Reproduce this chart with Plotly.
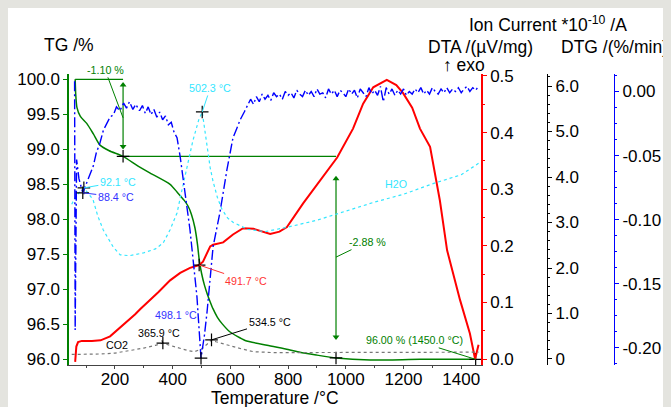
import numpy as np
import plotly.graph_objects as go

# ---------------- data ----------------
T_TG = [62, 64, 68, 80, 102, 125, 148, 180, 228, 280, 322, 391, 415, 440, 453, 465, 477, 486,
        492, 500, 510, 520, 530, 540, 555, 571, 599, 651, 727, 800, 841, 900, 966, 1084, 1257, 1450]
TG = [100.00, 99.78, 99.60, 99.47, 99.37, 99.22, 99.06, 98.98, 98.90, 98.76, 98.66, 98.50, 98.39,
      98.27, 98.19, 98.07, 97.88, 97.64, 97.42, 97.23, 97.06, 96.93, 96.82, 96.72, 96.60, 96.51,
      96.39, 96.27, 96.20, 96.14, 96.10, 96.06, 96.02, 95.99, 96.00, 96.00]

T_DTA = [62, 66, 72, 85, 120, 150, 183, 210, 242, 270, 287, 311, 350, 391, 426, 460, 491.7, 505,
         519, 530, 540, 575, 609, 644, 680, 738, 770, 796, 852, 911, 970, 1025, 1060, 1095, 1142,
         1175, 1198, 1230, 1257, 1292, 1326, 1351, 1396, 1430, 1448, 1460]
DTA = [-0.005, 0.022, 0.030, 0.032, 0.032, 0.033, 0.040, 0.052, 0.066, 0.079, 0.088, 0.099, 0.118,
       0.139, 0.152, 0.161, 0.166, 0.172, 0.187, 0.199, 0.202, 0.206, 0.220, 0.231, 0.230, 0.221,
       0.225, 0.233, 0.275, 0.316, 0.356, 0.407, 0.451, 0.480, 0.493, 0.484, 0.470, 0.444, 0.407,
       0.375, 0.280, 0.192, 0.104, 0.045, 0.000, 0.025]

T_H2O = [50, 62, 75, 92.1, 110, 124, 140, 159, 194, 218, 250, 298, 340, 367, 391, 415, 432, 450,
         470, 490, 502.3, 512, 520, 530, 540, 555, 570, 590, 610, 660, 720, 800, 900, 1000, 1100,
         1200, 1300, 1400, 1460]
H2O = [3.40, 3.55, 3.65, 3.76, 3.62, 3.50, 3.15, 2.84, 2.46, 2.29, 2.27, 2.33, 2.42, 2.55, 2.84,
       3.21, 3.71, 4.25, 4.80, 5.25, 5.43, 5.00, 4.60, 4.20, 3.90, 3.55, 3.30, 3.10, 3.00, 2.85,
       2.80, 2.90, 3.05, 3.25, 3.45, 3.62, 3.85, 4.05, 4.30]

T_CO2 = [50, 100, 150, 200, 250, 300, 340, 365.9, 390, 420, 450, 475, 500, 520, 534.5, 550, 570,
         600, 640, 680, 750, 900, 1100, 1300, 1460]
CO2 = [0.10, 0.10, 0.11, 0.13, 0.18, 0.24, 0.30, 0.35, 0.30, 0.24, 0.19, 0.16, 0.22, 0.33, 0.42,
       0.38, 0.35, 0.29, 0.22, 0.16, 0.14, 0.14, 0.14, 0.15, 0.15]

T_DTG = [60, 62, 67, 75, 88.4, 100, 112, 125, 135, 148, 160, 170, 183, 195, 205, 217, 230, 240,
         250, 262, 272, 285, 295, 305, 315, 325, 335, 345, 355, 365, 375, 385, 395, 405, 415, 426,
         440, 460, 484, 498.1, 510, 519, 540, 564, 588, 609, 620, 634, 648,
         660, 670, 680, 690, 700, 710, 720, 730, 740, 750, 760, 770, 780, 790, 800, 810, 820, 830,
         840, 850, 860, 870, 880, 890, 900, 910, 920, 930, 940, 950, 960, 970, 980, 990, 1000,
         1010, 1020, 1030, 1040, 1050, 1060, 1070, 1080, 1090, 1100, 1110, 1120, 1130, 1140, 1150,
         1160, 1170, 1180, 1190, 1200, 1210, 1220, 1230, 1240, 1250, 1260, 1270, 1280, 1290, 1300,
         1310, 1320, 1330, 1340, 1350, 1360, 1370, 1380, 1390, 1400, 1410, 1420, 1430, 1440, 1450,
         1460]
DTG = [0.008, -0.186, -0.053, -0.068, -0.079, -0.072, -0.065, -0.058, -0.048, -0.040, -0.030,
       -0.026, -0.020, -0.018, -0.012, -0.015, -0.009, -0.013, -0.008, -0.014, -0.010, -0.015,
       -0.011, -0.017, -0.012, -0.018, -0.014, -0.020, -0.016, -0.022, -0.019, -0.026, -0.024,
       -0.032, -0.036, -0.051, -0.075, -0.108, -0.160, -0.208, -0.190, -0.172, -0.121, -0.094,
       -0.061, -0.036, -0.030, -0.022, -0.016,
       -0.011, -0.006, -0.010, -0.004, -0.008, -0.002, -0.006, -0.003, -0.007, -0.001, -0.004,
       -0.002, -0.006, 0.000, -0.003, -0.001, -0.005, 0.001, -0.002, -0.004, 0.001, -0.003, 0.000,
       -0.004, 0.002, -0.002, -0.001, -0.005, 0.002, -0.002, 0.001, -0.004, 0.001, -0.001, -0.004,
       0.002, -0.002, 0.001, -0.005, 0.002, -0.001, -0.004, 0.003, -0.002, 0.001, -0.003, 0.004,
       -0.008, 0.003, -0.002, 0.002, -0.003, 0.001, -0.002, 0.002, -0.003, 0.000, -0.002, 0.002,
       -0.001, 0.003, -0.002, 0.001, -0.002, 0.003, 0.000, -0.002, 0.002, -0.001, 0.003, -0.001,
       0.002, 0.000, 0.003, -0.001, 0.002, 0.004, 0.000, 0.003, 0.001, 0.004]

# peak / event temperatures
T_STEP = [62, 228, 966]
T_H2O_PEAKS = [92.1, 502.3]
T_CO2_PEAKS = [365.9, 534.5]
T_DTG_PEAKS = [88.4, 498.1]
T_DTA_PEAK = 491.7
T_END = 1450

TG_TICKS = [96.0, 96.5, 97.0, 97.5, 98.0, 98.5, 99.0, 99.5, 100.0]
DTA_TICKS = [0.0, 0.1, 0.2, 0.3, 0.4, 0.5]
ION_TICKS = [0, 1, 2, 3, 4, 5, 6]
DTG_TICKS = [0.0, -0.05, -0.10, -0.15, -0.20]

# ---------------- style ----------------
GREEN = "#008000"
RED = "#ff0000"
BLUE = "#0000ff"
CYAN = "#33e6ff"
BG = "#e4e4df"
FONT = "Liberation Sans, Arial, sans-serif"

# the page puts the figure 8 px from the top-left corner
OFF = 8
W, H = 671 - OFF, 407 - OFF
# plot area in page pixels
PL, PR, PT, PB = 69, 660, 74, 365
L, R, TOP, BOT = PL - OFF, PR - OFF, PT - OFF, PB - OFF


def pxx(x):
    return (x - PL) / (PR - PL)


def pyy(y):
    return (PB - y) / (PB - PT)


fig = go.Figure()

fig.add_trace(go.Scatter(x=T_H2O, y=H2O, yaxis="y3", mode="lines",
                         line=dict(color=CYAN, width=1.2, dash="dot")))
fig.add_trace(go.Scatter(x=T_CO2, y=CO2, yaxis="y3", mode="lines",
                         line=dict(color="#777777", width=1.2, dash="dot")))
fig.add_trace(go.Scatter(x=T_DTG, y=DTG, yaxis="y4", mode="lines",
                         line=dict(color=BLUE, width=1.4, dash="10px,3px,2px,3px")))
fig.add_trace(go.Scatter(x=T_DTA, y=DTA, yaxis="y2", mode="lines",
                         line=dict(color=RED, width=2)))
fig.add_trace(go.Scatter(x=T_TG, y=TG, yaxis="y", mode="lines", line_shape="spline",
                         line=dict(color=GREEN, width=1.5, smoothing=0.6)))

# step evaluation lines
tg_step = [float(np.interp(t, T_TG, TG)) for t in T_STEP]
fig.add_trace(go.Scatter(x=[T_STEP[0], T_STEP[1]], y=[tg_step[0], tg_step[0]], yaxis="y",
                         mode="lines", line=dict(color=GREEN, width=1.2)))
fig.add_trace(go.Scatter(x=[T_STEP[1], T_STEP[2]], y=[tg_step[1], tg_step[1]], yaxis="y",
                         mode="lines", line=dict(color=GREEN, width=1.2)))


def darrow(x, ytop, ybot):
    fig.add_trace(go.Scatter(x=[x, x], y=[ytop, ybot], yaxis="y", mode="lines",
                             line=dict(color=GREEN, width=1.2)))
    fig.add_trace(go.Scatter(x=[x], y=[ytop], yaxis="y", mode="markers",
                             marker=dict(symbol="triangle-up", size=6, color=GREEN)))
    fig.add_trace(go.Scatter(x=[x], y=[ybot], yaxis="y", mode="markers",
                             marker=dict(symbol="triangle-down", size=6, color=GREEN)))


darrow(T_STEP[1], tg_step[0] - 0.08, tg_step[1] + 0.14)
darrow(T_STEP[2], tg_step[1] - 0.32, tg_step[2] + 0.30)


# markers
def mark(xs, ys, axis):
    fig.add_trace(go.Scatter(x=xs, y=ys, yaxis=axis, mode="markers",
                             marker=dict(symbol="cross-thin", size=9,
                                         line=dict(color="black", width=1.2))))


mark(T_STEP[1:], tg_step[1:], "y")
tg_end = float(np.interp(T_END, T_TG, TG))
mark([T_END], [tg_end], "y")
h2o_pk = [float(np.interp(t, T_H2O, H2O)) for t in T_H2O_PEAKS]
co2_pk = [float(np.interp(t, T_CO2, CO2)) for t in T_CO2_PEAKS]
dtg_pk = [float(np.interp(t, T_DTG, DTG)) for t in T_DTG_PEAKS]
dta_pk = float(np.interp(T_DTA_PEAK, T_DTA, DTA))
mark(T_H2O_PEAKS, h2o_pk, "y3")
mark(T_CO2_PEAKS, co2_pk, "y3")
mark(T_DTG_PEAKS, dtg_pk, "y4")
mark([T_DTA_PEAK], [dta_pk], "y2")

ann = []
AF = 10.7


def lab(text, x, y, yref, ax, ay, color, arrow=True):
    d = dict(text=text, x=x, y=y, xref="x", yref=yref,
             font=dict(size=AF, color=color, family=FONT))
    if arrow:
        d.update(showarrow=True, ax=ax, ay=ay, arrowhead=0, arrowwidth=1, arrowcolor=color,
                 standoff=0)
    else:
        d.update(showarrow=False, xshift=ax, yshift=-ay)
    ann.append(d)


d1 = tg_step[1] - tg_step[0]
d2 = tg_step[2] - tg_step[1]
lab(f"{d1:.2f} %", T_STEP[1], (tg_step[0] + tg_step[1]) / 2, "y", -18, -48, GREEN)
lab(f"{d2:.2f} %", T_STEP[2], (tg_step[1] + tg_step[2]) / 2, "y", 31, -15, GREEN)
lab(f"{tg_end:.2f} % ({T_END:.1f} °C)", T_END, tg_end, "y", -61, -19, GREEN)

lab(f"{T_H2O_PEAKS[0]:.1f} °C", T_H2O_PEAKS[0], h2o_pk[0], "y3", 34, -6, CYAN)
lab(f"{T_H2O_PEAKS[1]:.1f} °C", T_H2O_PEAKS[1], h2o_pk[1], "y3", 8, -24, CYAN)
lab(f"{T_DTG_PEAKS[0]:.1f} °C", T_DTG_PEAKS[0], dtg_pk[0], "y4", 33, 4, "#3333ff")
lab(f"{T_DTG_PEAKS[1]:.1f} °C", T_DTG_PEAKS[1], dtg_pk[1], "y4", -25, -43, "#3333ff", arrow=False)
lab(f"{T_DTA_PEAK:.1f} °C", T_DTA_PEAK, dta_pk, "y2", 47, 16, "#ff3333")
lab(f"{T_CO2_PEAKS[0]:.1f} °C", T_CO2_PEAKS[0], co2_pk[0], "y3", -4, -10, "black")
lab(f"{T_CO2_PEAKS[1]:.1f} °C", T_CO2_PEAKS[1], co2_pk[1], "y3", 58, -18, "black")


def ptext(text, x, y, size, color="black", xanchor="left"):
    ann.append(dict(text=text, x=pxx(x), y=pyy(y), xref="paper", yref="paper", showarrow=False,
                    xanchor=xanchor, yanchor="middle",
                    font=dict(size=size, color=color, family=FONT)))


ptext("CO2", 117, 345, AF, "black", "center")
ptext("H2O", 396, 184, AF, CYAN, "center")

TF = 17.5
ptext("TG /%", 42, 45, TF)
ptext("Ion Current *10<sup>-10</sup> /A", 467, 24, TF)
ptext("DTA /(µV/mg)", 480, 47, TF, "black", "center")
ptext("DTG /(%/min)", 559, 47, TF)
ptext("↑ exo", 441, 65, TF)
ptext("Temperature /°C", 275, 398, TF, "black", "center")

TKF = dict(size=17, color="black", family=FONT)

fig.update_layout(
    width=W, height=H,
    margin=dict(l=L, r=W - R, t=TOP, b=H - BOT, pad=0),
    paper_bgcolor="white",
    plot_bgcolor="rgba(0,0,0,0)",
    showlegend=False,
    hovermode=False,
    font=dict(family=FONT, color="black"),
    annotations=ann,
    xaxis=dict(domain=[0, pxx(481)], range=[40.6, 1468.5], tickmode="linear", tick0=0, dtick=200,
               ticks="outside", ticklen=3, tickcolor="#444", showline=True, linecolor="#444",
               linewidth=1, showgrid=False, zeroline=False, tickfont=TKF, automargin=False,
               ticklabelstandoff=-4,
               minor=dict(tickmode="linear", tick0=0, dtick=100, ticks="outside", ticklen=2,
                          tickcolor="#444")),
    yaxis=dict(range=[95.919, 100.076], tickmode="array", tickvals=TG_TICKS,
               ticktext=[f"{v:.1f}" for v in TG_TICKS], side="left", ticks="outside", ticklen=4,
               tickcolor=GREEN, showline=True, linecolor=GREEN, linewidth=1.5, showgrid=False,
               zeroline=False, tickfont=TKF, automargin=False),
    yaxis2=dict(range=[-0.0106, 0.5035], overlaying="y", side="right", anchor="x",
                tickmode="array", tickvals=DTA_TICKS, ticktext=[f"{v:.1f}" for v in DTA_TICKS],
                ticks="outside", ticklen=4, tickcolor=RED, showline=True, linecolor=RED,
                linewidth=1.5, showgrid=False, zeroline=False, tickfont=TKF, automargin=False,
                minor=dict(tickmode="linear", tick0=0, dtick=0.05, ticks="outside", ticklen=2,
                           tickcolor=RED)),
    yaxis3=dict(range=[-0.132, 6.264], overlaying="y", side="right", anchor="free",
                position=pxx(547), tickmode="array", tickvals=ION_TICKS,
                ticktext=["0" if v == 0 else f"{v:.1f}" for v in ION_TICKS],
                ticks="outside", ticklen=4, tickcolor="black", showline=True, linecolor="black",
                linewidth=1, showgrid=False, zeroline=False, tickfont=TKF, automargin=False,
                minor=dict(tickmode="linear", tick0=0, dtick=0.2, ticks="outside", ticklen=2,
                           tickcolor="black")),
    yaxis4=dict(range=[-0.2133, 0.01365], overlaying="y", side="right", anchor="free",
                position=pxx(614), tickmode="array", tickvals=DTG_TICKS,
                ticktext=[f"{v:.2f}" for v in DTG_TICKS],
                ticks="outside", ticklen=4, tickcolor=BLUE, showline=True, linecolor=BLUE,
                linewidth=1, showgrid=False, zeroline=False, tickfont=TKF, automargin=False,
                minor=dict(tickmode="linear", tick0=0, dtick=0.0125, ticks="outside", ticklen=2,
                           tickcolor=BLUE)),
)

fig.write_html("out.html",
               post_script=f"document.body.style.background='{BG}';"
                           f"document.documentElement.style.background='{BG}';"
                           "document.body.style.overflow='hidden';")
